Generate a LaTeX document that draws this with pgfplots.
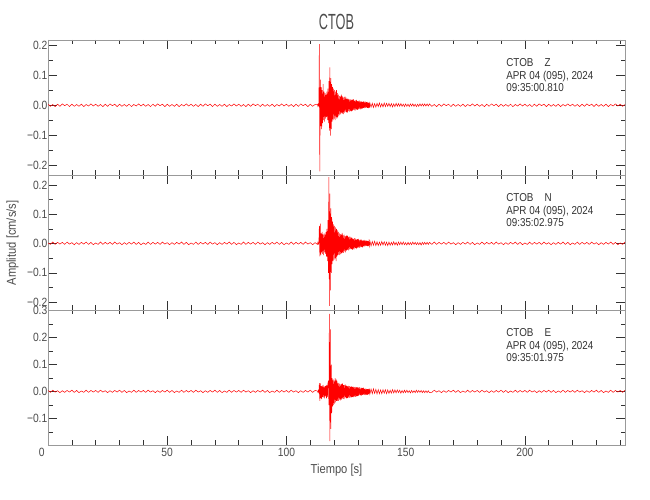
\documentclass[border=0pt]{standalone}
\usepackage{fontspec}
\setmainfont{Liberation Sans}[FakeStretch=0.86]
\newfontfamily\titlefont{Liberation Sans}[FakeStretch=0.58]
\usepackage{pgfplots}
\usepackage{pgfplotstable}
\pgfplotsset{compat=1.18}

\pgfplotstableread{
t z n e
0 .003 .002 .004
1 -.004 -.003 -.003
2 .002 .005 .005
3 -.005 -.003 -.002
4 .003 .004 .003
5 -.004 -.002 -.004
6 .004 .004 .003
7 -.002 -.003 -.003
8 .003 .005 .004
9 -.005 -.002 -.002
10 .003 .003 .005
11 -.004 -.004 -.003
12 .002 .003 .004
13 -.004 -.003 -.004
14 .003 .004 .002
15 -.005 -.002 -.003
16 .002 .005 .005
17 -.003 -.003 -.003
18 .004 .004 .004
19 -.003 -.004 -.002
20 .003 .002 .004
21 -.004 -.003 -.003
22 .002 .005 .005
23 -.005 -.003 -.002
24 .003 .004 .003
25 -.004 -.002 -.004
26 .004 .004 .003
27 -.002 -.003 -.003
28 .003 .005 .004
29 -.005 -.002 -.002
30 .003 .003 .005
31 -.004 -.004 -.003
32 .002 .003 .004
33 -.004 -.003 -.004
34 .003 .004 .002
35 -.005 -.002 -.003
36 .002 .005 .005
37 -.003 -.003 -.003
38 .004 .004 .004
39 -.003 -.004 -.002
40 .003 .002 .004
41 -.004 -.003 -.003
42 .002 .005 .005
43 -.005 -.003 -.002
44 .003 .004 .003
45 -.004 -.002 -.004
46 .004 .004 .003
47 -.002 -.003 -.003
48 .003 .005 .004
49 -.005 -.002 -.002
50 .003 .003 .005
51 -.004 -.004 -.003
52 .002 .003 .004
53 -.004 -.003 -.004
54 .003 .004 .002
55 -.005 -.002 -.003
56 .002 .005 .005
57 -.003 -.003 -.003
58 .004 .004 .004
59 -.003 -.004 -.002
60 .003 .002 .004
61 -.004 -.003 -.003
62 .002 .005 .005
63 -.005 -.003 -.002
64 .003 .004 .003
65 -.004 -.002 -.004
66 .004 .004 .003
67 -.002 -.003 -.003
68 .003 .005 .004
69 -.005 -.002 -.002
70 .003 .003 .005
71 -.004 -.004 -.003
72 .002 .003 .004
73 -.004 -.003 -.004
74 .003 .004 .002
75 -.005 -.002 -.003
76 .002 .005 .005
77 -.003 -.003 -.003
78 .004 .004 .004
79 -.003 -.004 -.002
80 .003 .002 .004
81 -.004 -.003 -.003
82 .002 .005 .005
83 -.005 -.003 -.002
84 .003 .004 .003
85 -.004 -.002 -.004
86 .004 .004 .003
87 -.002 -.003 -.003
88 .003 .005 .004
89 -.005 -.002 -.002
90 .003 .003 .005
91 -.004 -.004 -.003
92 .002 .003 .004
93 -.004 -.003 -.004
94 .003 .004 .002
95 -.005 -.002 -.003
96 .002 .005 .005
97 -.003 -.003 -.003
98 .004 .004 .004
99 -.003 -.004 -.002
100 .003 .002 .004
101 -.004 -.003 -.003
102 .002 .005 .005
103 -.005 -.003 -.002
104 .003 .004 .003
105 -.004 -.002 -.004
106 .004 .004 .003
107 -.002 -.003 -.003
108 .003 .005 .004
109 -.005 -.002 -.002
110 .003 .003 .005
111 -.004 -.004 -.003
112 .002 .003 .004
113.0 .003 -.003 .002
113.2 -.004 .004 -.003
113.4 .003 -.002 .004
113.6 -.002 .003 -.003
113.8 .203 .060 .031
114.0 -.221 -.044 -.035
114.2 .085 .068 .030
114.4 -.070 -.040 -.025
114.6 .060 .035 .020
114.8 -.080 -.030 -.028
115.0 .050 .040 .022
115.2 -.060 -.035 -.020
115.4 .070 .030 .025
115.6 -.050 -.040 -.022
115.8 .045 .035 .018
116.0 -.055 -.030 -.025
116.2 .040 .030 .020
116.4 -.045 -.035 -.018
116.6 .035 .040 .022
116.8 -.040 -.045 -.025
117.0 .045 .050 .025
117.2 -.050 -.060 -.020
117.4 .055 .080 .030
117.6 -.060 -.100 .040
117.8 .080 .227 -.050
118.0 -.085 -.213 .288
118.2 .126 .170 -.184
118.4 -.102 -.160 .230
118.6 .090 .120 -.138
118.8 -.080 -.100 .100
119.0 .070 .090 -.080
119.2 -.055 -.070 .050
119.4 .060 .075 -.055
119.6 -.050 -.060 .045
119.8 .055 .065 -.050
120.0 -.045 -.055 .040
120.2 .050 .060 -.045
120.4 -.050 -.050 .050
120.6 .045 .055 -.040
120.8 -.040 -.060 .045
121.0 .050 .050 -.035
121.2 -.045 -.045 .040
121.4 .040 .045 -.035
121.6 -.040 -.040 .030
121.8 .035 .040 -.035
122.0 -.035 -.038 .032
122.2 .030 .035 -.030
122.4 -.032 -.040 .028
122.6 .028 .032 -.033
122.8 -.030 -.035 .026
123.0 .035 .030 -.030
123.2 -.025 -.033 .028
123.4 .030 .036 -.025
123.6 -.028 -.030 .030
123.8 .025 .028 -.027
124.0 -.030 -.032 .024
124.2 .027 .030 -.028
124.4 -.025 -.027 .025
124.6 .028 .025 -.022
124.8 -.022 -.030 .026
125.0 .025 .026 -.024
125.2 -.024 -.024 .022
125.4 .020 .028 -.025
125.6 -.025 -.022 .020
125.8 .022 .025 -.023
126.0 -.020 -.023 .021
126.2 .020 .022 -.022
126.4 -.022 -.020 .020
126.6 .018 .024 -.023
126.8 -.020 -.019 .018
127.0 .019 .021 -.021
127.2 -.021 -.018 .019
127.4 .017 .020 -.022
127.6 -.019 -.022 .017
127.8 .018 .017 -.020
128.0 -.016 -.019 .018
128.2 .020 .016 -.021
128.4 -.017 -.020 .016
128.6 .015 .018 -.019
128.8 -.018 -.015 .017
129.0 .016 .017 -.020
129.2 -.014 -.019 .015
129.4 .017 .014 -.018
129.6 -.015 -.016 .016
129.8 .013 .015 -.017
130.0 -.016 -.013 .014
130.2 .014 .016 -.016
130.4 -.012 -.014 .015
130.6 .015 .012 -.013
130.8 -.013 -.015 .016
131.0 .012 .013 -.014
131.2 -.014 -.011 .012
131.4 .012 .013 -.015
131.6 -.012 -.012 .014
131.8 .010 .010 -.012
132.0 -.011 -.013 .013
132.2 .013 .011 -.011
132.4 -.009 -.009 .014
132.6 .011 .012 -.012
132.8 -.010 -.010 .010
133.0 .012 .011 -.013
133.2 -.009 -.009 .011
133.4 .010 .010 -.012
133.6 -.008 -.008 .010
133.8 .011 .010 -.011
134.0 -.009 -.009 .009
134.2 .008 .008 -.012
134.4 -.010 -.009 .010
134.6 .008 .007 -.009
134.8 -.009 -.008 .011
135.0 .007 .009 -.009
135.5 -.007 -.008 .009
136.0 .006 .007 -.008
136.5 -.008 -.006 .010
137.0 .005 .008 -.007
137.5 -.007 -.007 .008
138.0 .006 .006 -.009
138.5 -.005 -.007 .007
139.0 .007 .005 -.008
139.5 -.006 -.006 .006
140.0 .005 .007 -.008
140.5 -.006 -.005 .007
141.0 .007 .006 -.006
141.5 -.005 -.006 .007
142.0 .006 .005 -.008
142.5 -.004 -.007 .006
143.0 .006 .005 -.007
143.5 -.005 -.006 .005
144.0 .005 .004 -.006
144.5 -.006 -.005 .007
145.0 .004 .006 -.005
145.5 -.005 -.005 .006
146.0 .006 .004 -.005
146.5 -.004 -.006 .006
147.0 .005 .005 -.004
147.5 -.004 -.004 .005
148.0 .005 .005 -.006
148.5 -.004 -.004 .004
149.0 .003 .005 -.005
149.5 -.005 -.004 .005
150.0 .004 .003 -.004
150.5 -.004 -.005 .005
151.0 .003 .004 -.004
151.5 -.005 -.004 .003
152.0 .004 .003 -.005
152.5 -.003 -.004 .004
153.0 .004 .005 -.004
153.5 -.004 -.003 .003
154.0 .003 .004 -.004
154.5 -.005 -.004 .005
155.0 .003 .003 -.003
155.5 -.004 -.004 .004
156.0 .004 .003 -.003
156.5 -.003 -.005 .004
157.0 .004 .004 -.004
157.5 -.003 -.003 .003
158.0 .004 .004 -.004
158.5 -.003 -.003 .003
159.0 .004 .004 -.004
159.5 -.003 -.003 .003
160.0 .004 .004 -.004
161 -.004 -.003 -.003
162 .002 .005 .005
163 -.005 -.003 -.002
164 .003 .004 .003
165 -.004 -.002 -.004
166 .004 .004 .003
167 -.002 -.003 -.003
168 .003 .005 .004
169 -.005 -.002 -.002
170 .003 .003 .005
171 -.004 -.004 -.003
172 .002 .003 .004
173 -.004 -.003 -.004
174 .003 .004 .002
175 -.005 -.002 -.003
176 .002 .005 .005
177 -.003 -.003 -.003
178 .004 .004 .004
179 -.003 -.004 -.002
180 .003 .002 .004
181 -.004 -.003 -.003
182 .002 .005 .005
183 -.005 -.003 -.002
184 .003 .004 .003
185 -.004 -.002 -.004
186 .004 .004 .003
187 -.002 -.003 -.003
188 .003 .005 .004
189 -.005 -.002 -.002
190 .003 .003 .005
191 -.004 -.004 -.003
192 .002 .003 .004
193 -.004 -.003 -.004
194 .003 .004 .002
195 -.005 -.002 -.003
196 .002 .005 .005
197 -.003 -.003 -.003
198 .004 .004 .004
199 -.003 -.004 -.002
200 .003 .002 .004
201 -.004 -.003 -.003
202 .002 .005 .005
203 -.005 -.003 -.002
204 .003 .004 .003
205 -.004 -.002 -.004
206 .004 .004 .003
207 -.002 -.003 -.003
208 .003 .005 .004
209 -.005 -.002 -.002
210 .003 .003 .005
211 -.004 -.004 -.003
212 .002 .003 .004
213 -.004 -.003 -.004
214 .003 .004 .002
215 -.005 -.002 -.003
216 .002 .005 .005
217 -.003 -.003 -.003
218 .004 .004 .004
219 -.003 -.004 -.002
220 .003 .002 .004
221 -.004 -.003 -.003
222 .002 .005 .005
223 -.005 -.003 -.002
224 .003 .004 .003
225 -.004 -.002 -.004
226 .004 .004 .003
227 -.002 -.003 -.003
228 .003 .005 .004
229 -.005 -.002 -.002
230 .003 .003 .005
231 -.004 -.004 -.003
232 .002 .003 .004
233 -.004 -.003 -.004
234 .003 .004 .002
235 -.005 -.002 -.003
236 .002 .005 .005
237 -.003 -.003 -.003
238 .004 .004 .004
239 -.003 -.004 -.002
240 .003 .002 .004
241 -.004 -.003 -.003
242 .002 .005 .005
}\seis

\definecolor{txt}{gray}{0.3}
\pgfplotsset{
  panel/.style={
    scale only axis, width=577bp, height=135bp,
    xmin=0, xmax=242,
    axis line style={black!40, line width=0.9bp},
    tick style={black!80, line width=0.6bp},
    tick align=inside,
    major tick length=9bp, minor tick length=4.5bp,
    xtick={0,50,100,150,200},
    minor xtick={10,20,30,40,60,70,80,90,110,120,130,140,160,170,180,190,210,220,230,240},
    minor ytick={-0.15,-0.05,0.05,0.15,0.25},
    /pgf/number format/assume math mode=true,
    tick label style={font=\fontsize{12}{12}\selectfont, text=txt},
    yticklabel style={anchor=east, inner sep=0pt, xshift=-0.5bp},
    xticklabel style={anchor=north, inner sep=0pt, yshift=-3bp},
  },
  trace/.style={red, line width=0.5bp, mark=none},
}
\tikzset{ann/.style={anchor=base west, inner sep=0pt, text=black!80, font=\fontsize{11.5}{11.5}\selectfont}}

\begin{document}
\begin{tikzpicture}
\useasboundingbox (0,0) rectangle (650bp,500bp);

\begin{axis}[panel, at={(48bp,325bp)}, anchor=south west,
  ymin=-0.233, ymax=0.217,
  ytick={-0.2,-0.1,0,0.1,0.2}, yticklabels={−0.2,−0.1,0.0,0.1,0.2},
  xticklabels={}]
\addplot[trace] table[x=t, y=z] {\seis};
\node[ann] at (rel axis cs:0.794,0.800) {CTOB\hspace{11bp}Z};
\node[ann] at (rel axis cs:0.794,0.707) {APR 04 (095), 2024};
\node[ann] at (rel axis cs:0.794,0.615) {09:35:00.810};
\end{axis}

\begin{axis}[panel, at={(48bp,190bp)}, anchor=south west,
  ymin=-0.227, ymax=0.234,
  ytick={-0.2,-0.1,0,0.1,0.2}, yticklabels={−0.2,−0.1,0.0,0.1,0.2},
  xticklabels={}]
\addplot[trace] table[x=t, y=n] {\seis};
\node[ann] at (rel axis cs:0.794,0.800) {CTOB\hspace{11bp}N};
\node[ann] at (rel axis cs:0.794,0.707) {APR 04 (095), 2024};
\node[ann] at (rel axis cs:0.794,0.615) {09:35:02.975};
\end{axis}

\begin{axis}[panel, at={(48bp,55bp)}, anchor=south west,
  ymin=-0.198, ymax=0.302,
  ytick={-0.1,0,0.1,0.2,0.3}, yticklabels={−0.1,0.0,0.1,0.2,0.3},
  xticklabels={{\makebox[0pt][r]{0\hspace{3.5bp}}},50,100,150,200}]
\addplot[trace] table[x=t, y=e] {\seis};
\node[ann] at (rel axis cs:0.794,0.800) {CTOB\hspace{11bp}E};
\node[ann] at (rel axis cs:0.794,0.707) {APR 04 (095), 2024};
\node[ann] at (rel axis cs:0.794,0.615) {09:35:01.975};
\end{axis}

\node[text=txt, font=\titlefont\fontsize{22}{22}\selectfont] at (336.5bp,478bp) {CTOB};
\node[text=txt, font=\fontsize{13}{13}\selectfont, rotate=90] at (12.5bp,257bp) {Amplitud [cm/s/s]};
\node[text=txt, font=\fontsize{13}{13}\selectfont] at (336.5bp,30bp) {Tiempo [s]};
\end{tikzpicture}
\end{document}
